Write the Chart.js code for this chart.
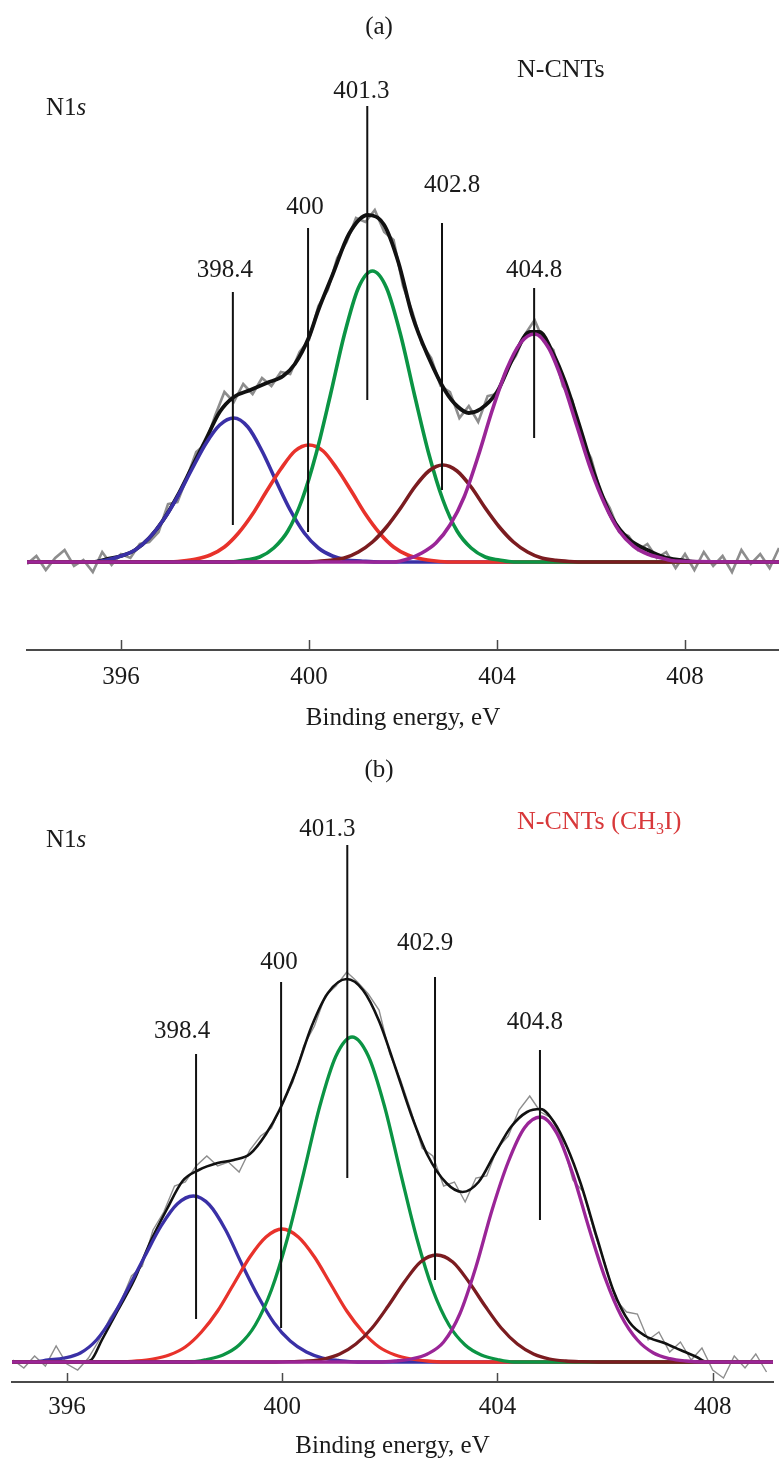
<!DOCTYPE html>
<html>
<head>
<meta charset="utf-8">
<script src="https://cdn.jsdelivr.net/npm/chart.js@4.4.1/dist/chart.umd.min.js"></script>
<style>
  html, body { margin: 0; padding: 0; background: #fff; }
  #wrap { position: relative; width: 779px; height: 1461px; }
  canvas { position: absolute; left: 0; }
</style>
</head>
<body>
<div id="wrap">
  <canvas id="chartA" width="779" height="733" style="top:0px"></canvas>
  <canvas id="chartB" width="779" height="728" style="top:733px"></canvas>
</div>
<script>
// ---------- shared ----------
const tickValues = [396, 400, 404, 408];
const axisTitle = 'Binding energy, eV';

// ---------- panel (a): N-CNTs ----------
const blueA_eV = [394.0, 395.4, 395.7, 396.0, 396.3, 396.6, 396.9, 397.2, 397.5, 397.8, 398.1, 398.4, 398.7, 399.0, 399.3, 399.6, 399.9, 400.2, 400.5, 400.8, 401.1, 401.5, 410.0];
const blueA    = [0, 0, 2, 6, 12, 24, 42, 65, 92, 118, 137, 144, 135, 111, 81, 52, 29, 14, 6, 2, 1, 0, 0];

const redA_eV = [394.0, 397.0, 397.3, 397.6, 397.9, 398.2, 398.5, 398.8, 399.1, 399.4, 399.7, 400.0, 400.3, 400.6, 400.9, 401.2, 401.5, 401.8, 402.1, 402.4, 402.7, 403.0, 410.0];
const redA    = [0, 0, 1, 3, 7, 15, 29, 48, 71, 93, 111, 117, 111, 93, 71, 48, 29, 15, 7, 3, 1, 0, 0];

const greenA_eV = [394.0, 398.35, 398.65, 398.95, 399.25, 399.55, 399.85, 400.15, 400.45, 400.75, 401.05, 401.35, 401.65, 401.95, 402.25, 402.55, 402.85, 403.15, 403.45, 403.75, 404.05, 404.35, 410.0];
const greenA    = [0, 0, 2, 5, 14, 31, 62, 108, 166, 227, 274, 291, 274, 227, 166, 108, 62, 31, 14, 5, 2, 0, 0];

const darkA_eV = [394.0, 399.85, 400.15, 400.45, 400.75, 401.05, 401.35, 401.65, 401.95, 402.25, 402.55, 402.85, 403.15, 403.45, 403.75, 404.05, 404.35, 404.65, 404.95, 405.25, 405.55, 405.85, 410.0];
const darkA    = [0, 0, 0.5, 1.6, 4, 10, 20, 35, 54, 75, 91, 97, 91, 75, 54, 35, 20, 10, 4, 1.6, 0.5, 0, 0];

const purpleA_eV = [394.0, 401.8, 402.1, 402.4, 402.7, 403.0, 403.3, 403.6, 403.9, 404.2, 404.5, 404.8, 405.1, 405.4, 405.7, 406.0, 406.3, 406.6, 406.9, 407.2, 407.5, 407.8, 410.0];
const purpleA    = [0, 0, 3, 9, 19, 37, 65, 106, 152, 192, 219, 228, 214, 180, 136, 92, 57, 31, 16, 8, 4, 1, 0];

const envA_eV = [394.0, 395.4, 395.7, 396.0, 396.3, 396.6, 396.9, 397.2, 397.5, 397.8, 398.1, 398.4, 398.75, 399.1, 399.45, 399.7, 400.0, 400.2, 400.5, 400.85, 401.25, 401.6, 401.9, 402.2, 402.55, 402.9, 403.15, 403.4, 403.65, 404.0, 404.35, 404.7, 404.9, 405.2, 405.45, 405.75, 406.1, 406.45, 406.8, 407.2, 407.55, 407.9, 408.3, 410.0];
const envA    = [0, 0, 3, 6, 12, 24, 42, 66, 94, 122, 150, 165, 172, 179, 186, 198, 225, 252, 287, 328, 347, 337, 300, 246, 204, 171, 156, 149, 153, 170, 205, 230, 230, 208, 180, 137, 84, 44, 23, 12, 5, 2, 0, 0];

const rawA_eV = [394.0, 394.2, 394.4, 394.6, 394.8, 395.0, 395.2, 395.4, 395.6, 395.8, 396.0, 396.2, 396.4, 396.6, 396.8, 397.0, 397.2, 397.4, 397.6, 397.8,
                 398.0, 398.2, 398.4, 398.6, 398.8, 399.0, 399.2, 399.4, 399.6, 399.8, 400.0, 400.2, 400.4, 400.6, 400.8, 401.0, 401.2, 401.4, 401.6, 401.8,
                 402.0, 402.2, 402.4, 402.6, 402.8, 403.0, 403.2, 403.4, 403.6, 403.8, 404.0, 404.2, 404.4, 404.6, 404.8, 405.0, 405.2, 405.4, 405.6, 405.8,
                 406.0, 406.2, 406.4, 406.6, 406.8, 407.0, 407.2, 407.4, 407.6, 407.8, 408.0, 408.2, 408.4, 408.6, 408.8, 409.0, 409.2, 409.4, 409.6, 409.8, 410.0];
const rawA    = [-2, 6, -8, 4, 12, -4, 2, -10, 10, -3, 8, 4, 18, 20, 30, 58, 60, 84, 110, 118,
                 146, 170, 160, 178, 168, 184, 176, 190, 188, 210, 222, 256, 272, 304, 320, 344, 340, 352, 330, 322,
                 276, 250, 218, 204, 176, 170, 144, 156, 140, 166, 168, 192, 206, 228, 242, 220, 212, 176, 162, 122,
                 104, 70, 54, 30, 26, 12, 18, 4, 10, -6, 8, -8, 10, -4, 6, -10, 12, -2, 8, -6, 14];

const markerA_eV  = [398.38, 399.98, 401.24, 402.83, 404.79];
const markerA_top = [270, 334, 456, 339, 274];
const markerA_bot = [37, 30, 162, 72, 124];
const peakLabelsA = ['398.4', '400', '401.3', '402.8', '404.8'];

// ---------- panel (b): N-CNTs (CH3I) ----------
const blueB_eV = [394.98, 395.35, 395.65, 395.95, 396.25, 396.55, 396.85, 397.15, 397.45, 397.75, 398.05, 398.35, 398.65, 398.95, 399.25, 399.55, 399.85, 400.15, 400.45, 400.75, 401.05, 401.4, 409.12];
const blueB    = [0, 0, 2, 4, 9, 22, 45, 75, 106, 136, 158, 166, 157, 132, 98, 66, 39, 21, 10, 4, 1.5, 0, 0];

const redB_eV = [394.98, 397.0, 397.3, 397.6, 397.9, 398.2, 398.5, 398.8, 399.1, 399.4, 399.7, 400.0, 400.3, 400.6, 400.9, 401.2, 401.5, 401.8, 402.1, 402.4, 402.7, 403.0, 409.12];
const redB    = [0, 0, 1, 3, 7, 15, 30, 51, 78, 105, 125, 133, 125, 105, 78, 51, 30, 15, 7, 3, 1, 0, 0];

const greenB_eV = [394.98, 398.3, 398.6, 398.9, 399.2, 399.5, 399.8, 400.1, 400.4, 400.7, 401.0, 401.3, 401.6, 401.9, 402.2, 402.5, 402.8, 403.1, 403.4, 403.7, 404.0, 404.3, 409.12];
const greenB    = [0, 0, 2.5, 7, 17, 37, 72, 124, 189, 256, 306, 325, 306, 256, 189, 124, 72, 37, 17, 7, 2.5, 0, 0];

const darkB_eV = [394.98, 399.87, 400.17, 400.47, 400.77, 401.07, 401.37, 401.67, 401.97, 402.27, 402.57, 402.87, 403.17, 403.47, 403.77, 404.07, 404.37, 404.67, 404.97, 405.27, 405.57, 405.87, 409.12];
const darkB    = [0, 0, 0.3, 1, 3, 8, 18, 34, 56, 80, 100, 107, 100, 80, 56, 34, 18, 8, 3, 1, 0.3, 0, 0];

const purpleB_eV = [394.98, 401.8, 402.1, 402.4, 402.7, 403.0, 403.3, 403.6, 403.9, 404.2, 404.5, 404.8, 405.1, 405.4, 405.7, 406.0, 406.3, 406.6, 406.9, 407.2, 407.5, 407.8, 409.12];
const purpleB    = [0, 0, 1, 3, 8, 20, 48, 95, 152, 200, 234, 245, 229, 188, 134, 84, 46, 22, 9, 3.4, 1, 0, 0];

const envB_eV = [394.98, 396.3, 396.45, 396.65, 396.95, 397.25, 397.55, 397.85, 398.15, 398.45, 398.8, 399.1, 399.4, 399.7, 399.95, 400.25, 400.55, 400.85, 401.2, 401.5, 401.8, 402.1, 402.4, 402.7, 403.05, 403.35, 403.65, 403.95, 404.25, 404.55, 404.8, 405.05, 405.3, 405.55, 405.85, 406.15, 406.45, 406.75, 407.1, 407.4, 407.7, 407.9, 409.12];
const envB    = [0, 0, 2, 22, 52, 82, 120, 152, 181, 192, 199, 202, 208, 228, 252, 290, 336, 369, 383, 372, 341, 295, 247, 207, 179, 170, 180, 208, 235, 250, 253, 240, 214, 178, 124, 72, 40, 26, 19, 12, 5, 0, 0];

const rawB_eV = [395.0, 395.2, 395.4, 395.6, 395.8, 396.0, 396.2, 396.4, 396.6, 396.8, 397.0, 397.2, 397.4, 397.6, 397.8,
                 398.0, 398.2, 398.4, 398.6, 398.8, 399.0, 399.2, 399.4, 399.6, 399.8, 400.0, 400.2, 400.4, 400.6, 400.8,
                 401.0, 401.2, 401.4, 401.6, 401.8, 402.0, 402.2, 402.4, 402.6, 402.8, 403.0, 403.2, 403.4, 403.6, 403.8,
                 404.0, 404.2, 404.4, 404.6, 404.8, 405.0, 405.2, 405.4, 405.6, 405.8, 406.0, 406.2, 406.4, 406.6, 406.8,
                 407.0, 407.2, 407.4, 407.6, 407.8, 408.0, 408.2, 408.4, 408.6, 408.8, 409.0];
const rawB    = [2, -6, 6, -4, 16, -2, -8, 4, 22, 44, 60, 86, 96, 132, 150,
                 176, 180, 196, 206, 196, 200, 190, 212, 226, 234, 258, 280, 316, 336, 366,
                 376, 390, 380, 368, 352, 308, 282, 250, 214, 206, 176, 180, 160, 184, 186,
                 214, 226, 252, 266, 250, 244, 222, 182, 170, 130, 98, 62, 50, 48, 22,
                 30, 10, 20, 2, 14, -8, -16, 6, -6, 8, -10];

const markerB_eV  = [398.4, 399.98, 401.21, 402.84, 404.79];
const markerB_top = [308, 380, 517, 385, 312];
const markerB_bot = [43, 34, 184, 82, 142];
const peakLabelsB = ['398.4', '400', '401.3', '402.9', '404.8'];

// ---------- styling ----------
const SERIF = "'Liberation Serif', 'Times New Roman', serif";
const COLORS = {
  blue: '#3a30a6', red: '#e8322b', green: '#0b9444', dark: '#7b1c20',
  purple: '#9a2597', env: '#111111', raw: '#8d8d8d', marker: '#111111', axis: '#4a4a4a'
};

const pts = (xs, ys) => xs.map((x, i) => ({ x: x, y: ys[i] }));

function curve(xs, ys, color, width) {
  return { data: pts(xs, ys), borderColor: color, borderWidth: width, pointRadius: 0,
           cubicInterpolationMode: 'monotone', fill: false };
}

function markerSets(evs, tops, bots) {
  return evs.map((e, i) => ({
    data: [{ x: e, y: tops[i] }, { x: e, y: bots[i] }],
    borderColor: COLORS.marker, borderWidth: 2, pointRadius: 0, tension: 0, fill: false
  }));
}

function drawRich(ctx, parts, x, y, size, color) {
  let cx = x;
  ctx.fillStyle = color;
  ctx.textAlign = 'left';
  ctx.textBaseline = 'middle';
  parts.forEach(p => {
    const fs = p.sub ? Math.round(size * 0.62) : size;
    ctx.font = (p.italic ? 'italic ' : '') + fs + 'px ' + SERIF;
    ctx.fillText(p.t, cx, p.sub ? y + size * 0.3 : y);
    cx += ctx.measureText(p.t).width;
  });
}

// tick marks pointing into the plot, panel texts and peak labels
const panelDecor = {
  id: 'panelDecor',
  afterDraw(chart, args, o) {
    const ctx = chart.ctx;
    const xs = chart.scales.x, ys = chart.scales.y;
    ctx.save();
    ctx.strokeStyle = COLORS.axis;
    ctx.lineWidth = 1.5;
    tickValues.forEach(v => {
      const px = Math.round(xs.getPixelForValue(v)) + 0.5;
      ctx.beginPath();
      ctx.moveTo(px, xs.top);
      ctx.lineTo(px, xs.top - o.tickLen);
      ctx.stroke();
    });

    ctx.font = '25px ' + SERIF;
    ctx.fillStyle = '#1a1a1a';
    ctx.textAlign = 'center';
    ctx.textBaseline = 'middle';
    o.labels.forEach((txt, i) => {
      const px = xs.getPixelForValue(o.markers[i]) + o.labelShift[i][0];
      const py = ys.getPixelForValue(o.tops[i]) + o.labelShift[i][1];
      ctx.fillText(txt, px, py);
    });
    ctx.fillText(o.letter, o.letterPos[0], o.letterPos[1]);

    drawRich(ctx, [{ t: 'N1' }, { t: 's', italic: true }], o.n1sPos[0], o.n1sPos[1], 25, '#1a1a1a');
    drawRich(ctx, o.name, o.namePos[0], o.namePos[1], 26, o.nameColor);
    ctx.restore();
  }
};

function makeChart(id, cfg) {
  const w = cfg.compWidth;
  const datasets = [].concat(
    markerSets(cfg.mEv, cfg.mTop, cfg.mBot),
    [
      curve(cfg.purple[0], cfg.purple[1], COLORS.purple, w),
      curve(cfg.dark[0], cfg.dark[1], COLORS.dark, w),
      curve(cfg.green[0], cfg.green[1], COLORS.green, w),
      curve(cfg.red[0], cfg.red[1], COLORS.red, w),
      curve(cfg.blue[0], cfg.blue[1], COLORS.blue, w),
      curve(cfg.env[0], cfg.env[1], COLORS.env, cfg.envWidth),
      { data: pts(cfg.raw[0], cfg.raw[1]), borderColor: COLORS.raw, borderWidth: cfg.rawWidth,
        pointRadius: 0, tension: 0, fill: false }
    ]
  );

  return new Chart(document.getElementById(id), {
    type: 'line',
    data: { datasets: datasets },
    plugins: [panelDecor],
    options: {
      responsive: false,
      animation: false,
      events: [],
      layout: { padding: cfg.padding },
      scales: {
        x: {
          type: 'linear',
          min: cfg.xMin,
          max: cfg.xMax,
          afterBuildTicks: s => { s.ticks = tickValues.map(v => ({ value: v })); },
          afterFit: s => { s.height = cfg.axisHeight; },
          grid: { display: true, drawOnChartArea: false, drawTicks: false },
          border: { display: true, color: COLORS.axis, width: 2 },
          ticks: { autoSkip: false, maxRotation: 0, padding: cfg.tickPad, color: '#1a1a1a',
                   font: { family: SERIF, size: 25 } },
          title: { display: true, text: axisTitle, color: '#1a1a1a', padding: { top: 0, bottom: 0 },
                   font: { family: SERIF, size: 25 } }
        },
        y: { display: false, min: cfg.yMin, max: cfg.yMax }
      },
      plugins: {
        legend: { display: false },
        tooltip: { enabled: false },
        panelDecor: {
          tickLen: cfg.tickLen,
          markers: cfg.mEv, tops: cfg.mTop, labels: cfg.labels, labelShift: cfg.labelShift,
          letter: cfg.letter, letterPos: cfg.letterPos, n1sPos: cfg.n1sPos,
          name: cfg.name, namePos: cfg.namePos, nameColor: cfg.nameColor
        }
      }
    }
  });
}

makeChart('chartA', {
  blue: [blueA_eV, blueA], red: [redA_eV, redA], green: [greenA_eV, greenA],
  dark: [darkA_eV, darkA], purple: [purpleA_eV, purpleA], env: [envA_eV, envA], raw: [rawA_eV, rawA],
  compWidth: 3.6, envWidth: 3.8, rawWidth: 2.6,
  mEv: markerA_eV, mTop: markerA_top, mBot: markerA_bot, labels: peakLabelsA,
  labelShift: [[-8, -22], [-3, -21], [-6, -15], [10, -38], [0, -18]],
  xMin: 394, xMax: 410, yMin: -88, yMax: 522,
  padding: { left: 27, right: 0, top: 40, bottom: 0 },
  axisHeight: 83, tickPad: 12, tickLen: 10,
  letter: '(a)', letterPos: [379, 27], n1sPos: [46, 108],
  name: [{ t: 'N-CNTs' }], namePos: [517, 70], nameColor: '#1a1a1a'
});

makeChart('chartB', {
  blue: [blueB_eV, blueB], red: [redB_eV, redB], green: [greenB_eV, greenB],
  dark: [darkB_eV, darkB], purple: [purpleB_eV, purpleB], env: [envB_eV, envB], raw: [rawB_eV, rawB],
  compWidth: 3.3, envWidth: 2.6, rawWidth: 1.4,
  mEv: markerB_eV, mTop: markerB_top, mBot: markerB_bot, labels: peakLabelsB,
  labelShift: [[-14, -23], [-2, -20], [-20, -16], [-10, -34], [-5, -28]],
  xMin: 394.98, xMax: 409.12, yMin: -20, yMax: 569,
  padding: { left: 12, right: 6, top: 60, bottom: 0 },
  axisHeight: 79, tickPad: 10, tickLen: 9,
  letter: '(b)', letterPos: [379, 37], n1sPos: [46, 107],
  name: [{ t: 'N-CNTs (CH' }, { t: '3', sub: true }, { t: 'I)' }], namePos: [517, 89], nameColor: '#d8393b'
});
</script>
</body>
</html>
